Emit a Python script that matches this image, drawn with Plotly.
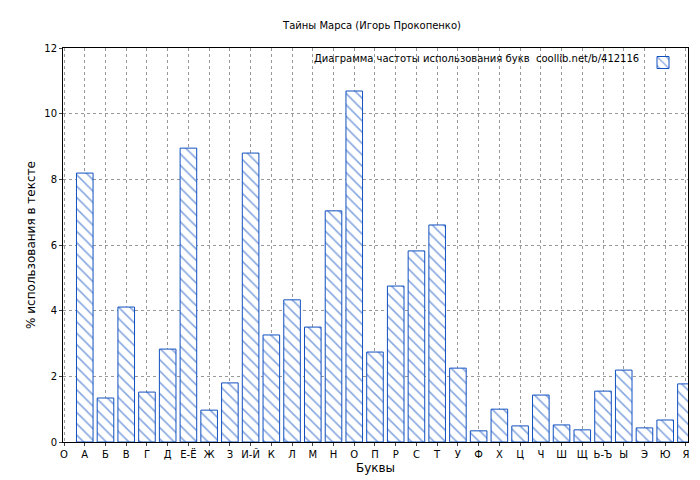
import plotly.graph_objects as go

letters = ["О", "А", "Б", "В", "Г", "Д", "Е-Ё", "Ж", "З", "И-Й", "К", "Л", "М", "Н", "О",
           "П", "Р", "С", "Т", "У", "Ф", "Х", "Ц", "Ч", "Ш", "Щ", "Ь-Ъ", "Ы", "Э", "Ю", "Я"]
values = [8.19, 1.34, 4.11, 1.52, 2.83, 8.95, 0.97, 1.80, 8.80, 3.26, 4.33, 3.50, 7.04, 10.69,
          2.74, 4.75, 5.82, 6.61, 2.25, 0.34, 1.00, 0.49, 1.43, 0.52, 0.37, 1.55, 2.19, 0.43, 0.67, 1.77]
legend_text = "Диаграмма частоты использования букв  coollib.net/b/412116"

pos = list(range(1, len(values) + 1))

fig = go.Figure(go.Bar(
    x=pos, y=values, width=0.8, name="",
    marker=dict(color="white", line=dict(color="#1050c0", width=1),
                pattern=dict(shape="\\", fgcolor="#1050c0", bgcolor="white", size=8, solidity=0.2)),
))

fig.update_layout(
    width=700, height=480,
    paper_bgcolor="white", plot_bgcolor="white",
    font=dict(family="DejaVu Sans", size=10, color="black"),
    title=dict(text="Тайны Марса (Игорь Прокопенко)", x=0.52, y=0.97, font=dict(size=10)),
    margin=dict(l=55, r=20, t=40, b=46),
    showlegend=True,
    legend=dict(x=1.0, y=1.0, xanchor="right", yanchor="top", bgcolor="rgba(0,0,0,0)",
                font=dict(size=10), itemwidth=30),
    annotations=[dict(text=legend_text, xref="paper", yref="paper", x=0.925, y=0.992,
                      xanchor="right", yanchor="top", showarrow=False, font=dict(size=10))],
)
fig.update_xaxes(
    tickvals=list(range(len(letters))), ticktext=letters, range=[-0.05, 30.1],
    showgrid=True, gridcolor="#999", griddash="dot", showline=True, linecolor="black",
    mirror=True, ticks="outside", ticklen=3, automargin=False,
    title=dict(text="Буквы", standoff=4),
)
fig.update_yaxes(
    range=[0, 12], dtick=2, showgrid=True, gridcolor="#999", griddash="dot",
    showline=True, linecolor="black", mirror=True, ticks="outside", ticklen=3,
    title=dict(text="% использования в тексте", standoff=6), zeroline=False, automargin=False,
)

fig.write_html("out.html")
